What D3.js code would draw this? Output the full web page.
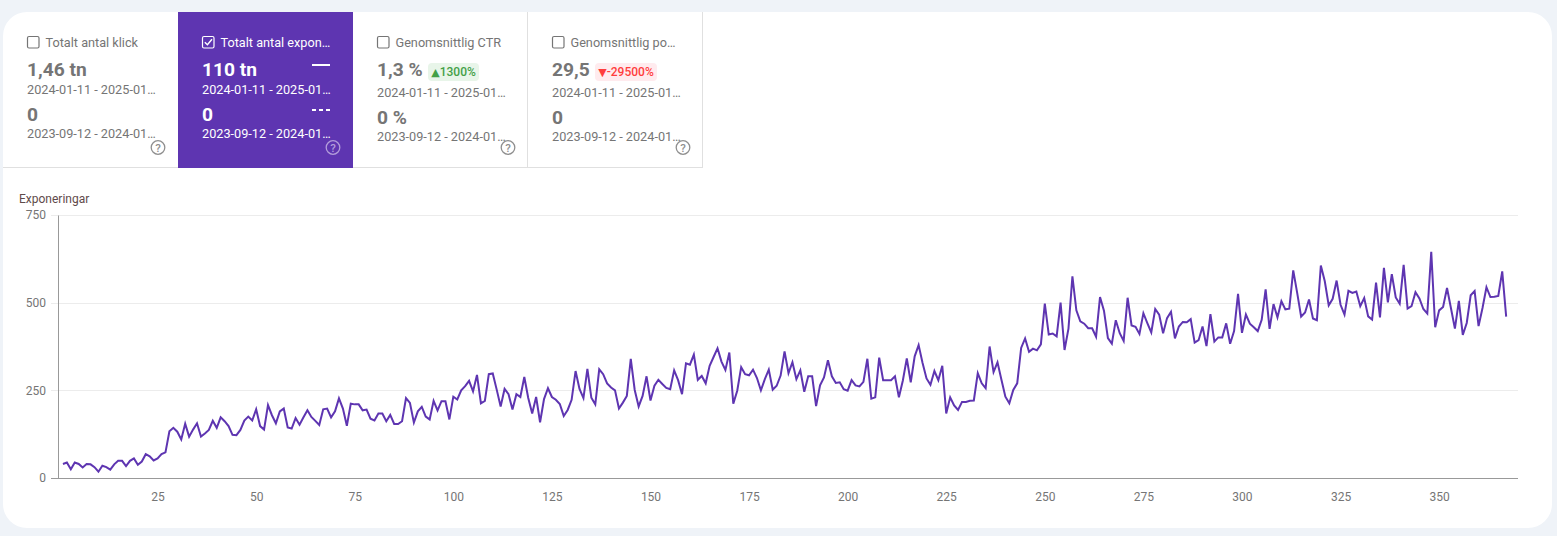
<!DOCTYPE html>
<html>
<head>
<meta charset="utf-8">
<script src="https://cdnjs.cloudflare.com/ajax/libs/d3/7.8.5/d3.min.js"></script>
<style>
  html, body { margin: 0; padding: 0; background: #eff3f8; overflow: hidden; }
  svg { display: block; font-family: Roboto, sans-serif; }
</style>
</head>
<body>
<div id="chart"></div>
<script>
var cardTitles = ['Totalt antal klick', 'Totalt antal expon…', 'Genomsnittlig CTR', 'Genomsnittlig po…'];
var currentValues = ['1,46 tn', '110 tn', '1,3 %', '29,5'];
var previousValues = ['0', '0', '0 %', '0'];
var currentRanges = ['2024-01-11 - 2025-01…', '2024-01-11 - 2025-01…', '2024-01-11 - 2025-01…', '2024-01-11 - 2025-01…'];
var previousRanges = ['2023-09-12 - 2024-01…', '2023-09-12 - 2024-01…', '2023-09-12 - 2024-01…', '2023-09-12 - 2024-01…'];
var badgeArrows = [null, null, '▲', '▼'];
var badgeTexts = [null, null, '1300%', '-29500%'];
var axisTitle = 'Exponeringar';
var yTicks = [0, 250, 500, 750];
var xTicks = [25, 50, 75, 100, 125, 150, 175, 200, 225, 250, 275, 300, 325, 350];

// exponeringar per dag, avlast fran bilden
var impressions = [
  40, 44, 25, 44, 40, 30, 40, 39, 31, 18, 35, 31, 24, 39, 49, 49, 34, 49, 56, 38,
  47, 68, 62, 50, 56, 68, 73, 133, 143, 132, 110, 155, 118, 138, 156, 118, 127, 137, 163, 143,
  173, 162, 148, 123, 122, 137, 164, 175, 164, 196, 148, 138, 208, 179, 156, 190, 198, 144, 141, 171,
  152, 173, 193, 174, 163, 151, 196, 198, 173, 190, 227, 198, 149, 212, 210, 210, 193, 195, 169, 164,
  184, 184, 162, 180, 154, 154, 162, 228, 214, 158, 190, 203, 175, 167, 220, 193, 219, 219, 167, 232,
  224, 250, 262, 277, 247, 294, 213, 220, 296, 298, 252, 204, 254, 239, 195, 239, 231, 288, 228, 184,
  231, 159, 225, 256, 231, 223, 211, 177, 194, 223, 305, 254, 228, 311, 229, 210, 310, 296, 270, 258,
  250, 198, 215, 234, 340, 251, 204, 234, 290, 221, 263, 280, 268, 257, 253, 307, 279, 239, 327, 323,
  352, 280, 291, 270, 320, 345, 370, 332, 308, 358, 212, 249, 316, 296, 293, 309, 285, 250, 282, 309,
  252, 263, 292, 361, 299, 330, 282, 307, 246, 290, 290, 205, 264, 287, 336, 290, 271, 273, 253, 249,
  279, 264, 261, 274, 340, 226, 230, 343, 279, 279, 279, 290, 230, 278, 341, 273, 347, 379, 328, 284,
  266, 305, 279, 320, 184, 230, 207, 194, 217, 217, 220, 221, 299, 270, 256, 375, 302, 330, 280, 232,
  213, 251, 270, 371, 398, 360, 369, 364, 381, 497, 409, 412, 404, 500, 365, 426, 575, 478, 447, 440,
  427, 427, 403, 516, 477, 399, 383, 450, 413, 391, 514, 435, 431, 411, 470, 442, 415, 482, 466, 413,
  456, 474, 398, 432, 445, 444, 453, 386, 393, 432, 376, 467, 389, 401, 401, 441, 383, 419, 525, 414,
  466, 440, 430, 419, 451, 538, 425, 496, 458, 504, 481, 483, 592, 528, 460, 472, 509, 455, 450, 606,
  561, 492, 511, 563, 494, 466, 534, 528, 532, 490, 513, 461, 452, 557, 458, 599, 501, 581, 515, 497,
  608, 483, 490, 530, 512, 482, 469, 645, 430, 478, 488, 542, 484, 426, 505, 408, 442, 521, 533, 433,
  485, 544, 516, 517, 519, 589, 460
];

var width = 1557, height = 536;
var purple = '#5e35b1';
var cardW = 175;

var svg = d3.select('#chart')
  .append('svg')
  .attr('width', width)
  .attr('height', height);

svg.append('rect')
  .attr('x', 3).attr('y', 12)
  .attr('width', 1549).attr('height', 516)
  .attr('rx', 24)
  .style('fill', '#fff');

// kort
var cards = svg.selectAll('.card')
  .data(d3.range(cardTitles.length))
  .enter()
  .append('g')
  .attr('class', 'card')
  .attr('transform', d => 'translate(' + (3 + d * cardW) + ',0)');

function isActive(d) { return d === 1; }
function textColor(d) { return isActive(d) ? '#fff' : '#757575'; }
function hasBadge(d) { return badgeTexts[d] !== null; }

cards.filter(isActive).append('rect')
  .attr('x', 0).attr('y', 12)
  .attr('width', cardW).attr('height', 156)
  .style('fill', purple);

cards.filter(d => !isActive(d)).append('line')
  .attr('x1', 0).attr('x2', cardW)
  .attr('y1', 167.5).attr('y2', 167.5)
  .style('stroke', '#e0e0e0');

cards.filter(d => d >= 2).append('line')
  .attr('x1', cardW - 0.5).attr('x2', cardW - 0.5)
  .attr('y1', 12).attr('y2', 168)
  .style('stroke', '#e0e0e0');

cards.append('rect')
  .attr('x', 24.5).attr('y', 36.5)
  .attr('width', 11.5).attr('height', 11.5)
  .attr('rx', 1.5)
  .style('fill', 'none')
  .style('stroke', d => isActive(d) ? '#fff' : '#757575')
  .style('stroke-width', 1.2);

cards.filter(isActive).append('path')
  .attr('d', 'M26.8 42.2 L29.4 44.8 L34 39.2')
  .style('fill', 'none')
  .style('stroke', '#fff')
  .style('stroke-width', 1.4);

cards.append('text')
  .attr('x', 42.5).attr('y', 47)
  .text(d => cardTitles[d])
  .style('font-size', '12.7px')
  .style('fill', textColor);

cards.append('text')
  .attr('x', 24).attr('y', 76)
  .text(d => currentValues[d])
  .style('font-size', '19.2px')
  .style('font-weight', '700')
  .style('fill', textColor);

cards.append('text')
  .attr('x', 24).attr('y', d => hasBadge(d) ? 97 : 94)
  .text(d => currentRanges[d])
  .style('font-size', '12.7px')
  .style('fill', textColor);

cards.append('text')
  .attr('x', 24).attr('y', d => hasBadge(d) ? 124 : 121)
  .text(d => previousValues[d])
  .style('font-size', '19.2px')
  .style('font-weight', '700')
  .style('fill', textColor);

cards.append('text')
  .attr('x', 24).attr('y', d => hasBadge(d) ? 141 : 138)
  .text(d => previousRanges[d])
  .style('font-size', '12.7px')
  .style('fill', textColor);

// legendstreck i valt kort
cards.filter(isActive).append('line')
  .attr('x1', 134).attr('x2', 152)
  .attr('y1', 65).attr('y2', 65)
  .style('stroke', '#fff')
  .style('stroke-width', 2);

cards.filter(isActive).append('line')
  .attr('x1', 134).attr('x2', 152)
  .attr('y1', 110).attr('y2', 110)
  .style('stroke', '#fff')
  .style('stroke-width', 2)
  .style('stroke-dasharray', '4 3');

var badgeStyle = {
  2: { x: 75, w: 51, bg: '#e8f5e9', fg: '#43a047' },
  3: { x: 67, w: 62, bg: '#ffebee', fg: '#ff3d3d' }
};

var badges = cards.filter(hasBadge);

badges.append('rect')
  .attr('x', d => badgeStyle[d].x).attr('y', 63)
  .attr('width', d => badgeStyle[d].w).attr('height', 18)
  .attr('rx', 4)
  .style('fill', d => badgeStyle[d].bg);

var badgeLabels = badges.append('text')
  .attr('x', d => badgeStyle[d].x + badgeStyle[d].w / 2).attr('y', 76)
  .attr('text-anchor', 'middle')
  .style('font-size', '12px')
  .style('font-weight', '500')
  .style('fill', d => badgeStyle[d].fg);

badgeLabels.append('tspan')
  .text(d => badgeArrows[d])
  .style('font-family', '"DejaVu Sans", sans-serif')
  .style('font-size', '11px');

badgeLabels.append('tspan')
  .text(d => badgeTexts[d]);

cards.append('circle')
  .attr('cx', 155).attr('cy', 147.5).attr('r', 6.8)
  .style('fill', 'none')
  .style('stroke', d => isActive(d) ? '#b39ddb' : '#8f8f8f')
  .style('stroke-width', 1.3);

cards.append('text')
  .attr('x', 155).attr('y', 151.7)
  .attr('text-anchor', 'middle')
  .text('?')
  .style('font-size', '11.5px')
  .style('font-weight', '500')
  .style('fill', d => isActive(d) ? '#b39ddb' : '#8f8f8f');

// diagram
var x = d3.scaleLinear().domain([0, 370]).range([59, 1518]);
var y = d3.scaleLinear().domain([0, 750]).range([478, 215]);

svg.append('text')
  .attr('x', 19).attr('y', 203)
  .text(axisTitle)
  .style('font-size', '12px')
  .style('fill', '#5f4b4b');

svg.append('g')
  .selectAll('line')
  .data(yTicks)
  .enter()
  .append('line')
  .attr('x1', 51).attr('x2', 1518)
  .attr('y1', d => Math.round(y(d)) + 0.5).attr('y2', d => Math.round(y(d)) + 0.5)
  .style('stroke', d => d === 0 ? '#999' : '#ececec');

var yAxis = svg.append('g')
  .attr('transform', 'translate(58,0)')
  .call(d3.axisLeft(y).tickValues(yTicks).tickSize(0).tickPadding(12));

yAxis.select('.domain').style('stroke', '#999');
yAxis.selectAll('.tick text')
  .style('font-family', 'Roboto, sans-serif')
  .style('font-size', '12px')
  .style('fill', '#757575');

var xAxis = svg.append('g')
  .attr('transform', 'translate(0,478)')
  .call(d3.axisBottom(x).tickValues(xTicks).tickSize(0).tickPadding(14));

xAxis.select('.domain').remove();
xAxis.selectAll('.tick text')
  .style('font-family', 'Roboto, sans-serif')
  .style('font-size', '12px')
  .style('fill', '#757575');

var line = d3.line()
  .x((d, i) => x(i + 1))
  .y(d => y(d));

svg.append('path')
  .datum(impressions)
  .attr('d', line)
  .style('fill', 'none')
  .style('stroke', purple)
  .style('stroke-width', 2);
</script>
</body>
</html>
